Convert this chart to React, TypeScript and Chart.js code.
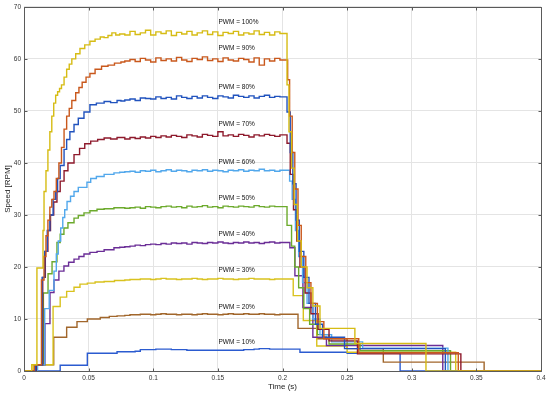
import React, { useEffect, useRef } from "react";
import { Chart, registerables } from "chart.js";

Chart.register(...registerables);

// ---------- data ----------
const pwmNames = ["PWM = 100%", "PWM = 90%", "PWM = 80%", "PWM = 70%", "PWM = 60%", "PWM = 50%", "PWM = 40%", "PWM = 30%", "PWM = 20%", "PWM = 10%"];
const seriesColors = ["#D6BC14", "#C9581C", "#2153BE", "#8E1A2C", "#52A8EC", "#6CAA2C", "#6B2E97", "#D9C21E", "#A1662B", "#2B5BD0"];
const labelT = 0.1505;
const labelV = [67.1, 62.0, 54.6, 47.4, 40.2, 33.2, 26.3, 19.3, 12.3, 5.6];

const xTicksMin = 0, xTicksMax = 0.4, xStep = 0.05;
const yTicksMin = 0, yTicksMax = 70, yStep = 10;

// shared sample times for the steady-state part
const plateauTimes = [0.078, 0.082, 0.086, 0.090, 0.094, 0.098, 0.102, 0.106, 0.110, 0.114, 0.118, 0.122, 0.126, 0.130, 0.134, 0.138, 0.142, 0.146, 0.150, 0.154, 0.158, 0.162, 0.166, 0.170, 0.174, 0.178, 0.182, 0.186, 0.190, 0.194, 0.198];

// PWM = 100%
const rise100 = [[0, 0], [0.006, 1.2], [0.010, 19.8], [0.0147, 27], [0.0155, 34.5], [0.017, 38.5], [0.0185, 42.5], [0.020, 46], [0.0215, 49], [0.023, 51.5], [0.0245, 53], [0.026, 53.7], [0.0275, 54.3], [0.029, 55], [0.031, 56.5], [0.033, 58], [0.035, 59], [0.037, 60], [0.040, 61], [0.0433, 62], [0.047, 62.7], [0.051, 63.4], [0.055, 63.8], [0.059, 64.2], [0.062, 64.1], [0.065, 64.5], [0.068, 65.0], [0.071, 64.6], [0.074, 64.8]];
const plateau100 = [64.6, 65.3, 64.7, 65.0, 65.5, 64.6, 65.2, 64.9, 65.4, 64.5, 65.1, 64.8, 65.3, 64.6, 65.0, 65.4, 64.7, 65.2, 64.5, 65.1, 64.9, 65.3, 64.6, 65.0, 64.8, 65.4, 64.7, 65.1, 64.6, 65.2, 64.9];
const fall100 = [[0.2035, 55], [0.205, 46], [0.207, 39], [0.209, 32], [0.2115, 25], [0.2145, 20], [0.219, 16], [0.2235, 12.5], [0.229, 8.2], [0.256, 5.3], [0.311, 0], [0.4, 0]];

// PWM = 90%
const rise90 = [[0, 0], [0.008, 1.2], [0.0135, 17.5], [0.0155, 22], [0.017, 26], [0.0185, 29], [0.020, 31.5], [0.0215, 33], [0.0232, 34.5], [0.025, 37], [0.027, 40], [0.029, 43], [0.031, 46.5], [0.033, 49], [0.035, 50.5], [0.037, 52], [0.040, 53.5], [0.0425, 54.5], [0.045, 55.5], [0.048, 56.5], [0.051, 57.2], [0.055, 58], [0.060, 58.6], [0.065, 58.8], [0.070, 59.2], [0.075, 59.4]];
const plateau90 = [59.6, 59.9, 59.5, 60.1, 59.8, 59.4, 60.2, 59.7, 60.0, 59.6, 60.3, 59.8, 59.5, 60.1, 59.9, 60.4, 59.7, 60.0, 59.5, 60.2, 59.8, 59.6, 60.1, 59.9, 59.4, 60.2, 58.8, 60.0, 59.6, 60.1, 59.8];
const fall90 = [[0.204, 56], [0.2055, 49], [0.2075, 42], [0.2095, 35], [0.212, 28], [0.2145, 22], [0.218, 17], [0.222, 13], [0.227, 9.5], [0.232, 6.2], [0.259, 3.5], [0.336, 0], [0.4, 0]];

// PWM = 80%
const rise80 = [[0, 0], [0.009, 1.2], [0.014, 18], [0.016, 23], [0.018, 27], [0.020, 30], [0.0225, 33], [0.0245, 34.5], [0.026, 37], [0.028, 39.5], [0.031, 42.6], [0.033, 44.5], [0.0355, 46], [0.0387, 47.4], [0.042, 48.6], [0.0464, 49.8], [0.051, 51.2], [0.056, 51.5], [0.062, 51.8], [0.067, 51.6], [0.072, 52.0], [0.075, 51.9]];
const plateau80 = [52.1, 52.3, 52.0, 52.5, 52.4, 52.3, 52.7, 52.4, 52.6, 52.3, 52.9, 52.6, 52.4, 52.8, 52.5, 52.9, 52.6, 52.4, 52.9, 52.7, 52.5, 53.0, 52.8, 52.6, 52.9, 52.5, 52.8, 53.0, 52.6, 52.8, 52.7];
const fall80 = [[0.2035, 49.8], [0.206, 42], [0.208, 36], [0.2105, 29], [0.213, 23], [0.2165, 18], [0.2205, 13], [0.2255, 9], [0.231, 6.5], [0.248, 4.3], [0.326, 0], [0.4, 0]];

// PWM = 70%
const rise70 = [[0, 0], [0.0095, 1.2], [0.0145, 18], [0.0165, 23], [0.0185, 27], [0.0205, 30], [0.023, 32.5], [0.0255, 34.5], [0.028, 36.5], [0.031, 38.5], [0.034, 40], [0.0387, 41.6], [0.043, 42.8], [0.047, 43.7], [0.0516, 44.2], [0.057, 44.5], [0.062, 44.8], [0.067, 44.6], [0.072, 44.9]];
const plateau70 = [44.6, 44.9, 44.7, 45.0, 44.8, 45.1, 44.9, 45.2, 45.0, 45.3, 45.1, 44.9, 45.4, 45.2, 45.0, 45.5, 45.3, 45.1, 46.0, 45.2, 45.4, 45.1, 45.5, 45.3, 45.0, 45.4, 45.2, 45.5, 45.3, 45.1, 45.4];
const fall70 = [[0.2035, 43.8], [0.206, 37.8], [0.2085, 31], [0.211, 25], [0.2135, 20], [0.2175, 15], [0.222, 11], [0.2275, 8], [0.236, 5.8], [0.258, 3.3], [0.338, 0], [0.4, 0]];

// PWM = 60%
const rise60 = [[0, 0], [0.0105, 1.2], [0.016, 12], [0.0195, 15.5], [0.0232, 19.2], [0.025, 22.5], [0.0265, 25], [0.0284, 27.5], [0.030, 29.5], [0.0315, 31], [0.0333, 32.6], [0.036, 33.6], [0.0387, 34.5], [0.042, 35.3], [0.0487, 36.3], [0.0516, 37.0], [0.056, 37.4], [0.062, 37.8], [0.0696, 38.1], [0.074, 38.2]];
const plateau60 = [38.3, 38.4, 38.2, 38.5, 38.4, 38.6, 38.3, 38.5, 38.7, 38.4, 38.6, 38.5, 38.3, 38.6, 38.5, 38.7, 38.4, 38.6, 38.5, 38.3, 38.6, 38.5, 38.7, 38.4, 38.6, 38.5, 38.8, 38.5, 38.6, 38.4, 38.6];
const fall60 = [[0.2055, 36.5], [0.2075, 33], [0.21, 27], [0.2125, 22], [0.2155, 17], [0.219, 13], [0.2235, 10], [0.229, 7], [0.238, 5.6], [0.262, 4.4], [0.328, 0], [0.4, 0]];

// PWM = 50%
const rise50 = [[0, 0], [0.0095, 1.2], [0.015, 15], [0.0186, 18.7], [0.0217, 21], [0.0255, 24.7], [0.028, 26.3], [0.0309, 27.5], [0.034, 28.5], [0.0387, 29.4], [0.042, 29.9], [0.0464, 30.4], [0.051, 30.8], [0.0565, 31.1], [0.062, 31.2], [0.0696, 31.4]];
const plateau50 = [31.3, 31.4, 31.5, 31.3, 31.6, 31.5, 31.4, 31.6, 31.7, 31.5, 31.6, 31.4, 31.7, 31.5, 31.6, 31.8, 31.5, 31.6, 31.4, 31.7, 31.6, 31.5, 31.7, 31.6, 31.5, 31.8, 31.6, 31.5, 31.7, 31.6, 31.6];
const fall50 = [[0.2035, 28], [0.207, 24], [0.2095, 20], [0.2125, 16], [0.2165, 12], [0.221, 9], [0.227, 7], [0.236, 5.2], [0.26, 3.9], [0.330, 0], [0.4, 0]];

// PWM = 40%
const rise40 = [[0, 0], [0.0085, 1.2], [0.0162, 9.1], [0.0201, 15.1], [0.0232, 17.5], [0.027, 19.2], [0.0309, 20.2], [0.0345, 20.9], [0.0387, 21.5], [0.0425, 22.0], [0.0464, 22.5], [0.051, 22.8], [0.0565, 23.0], [0.062, 23.3], [0.0696, 23.7], [0.074, 23.8]];
const plateau40 = [23.9, 24.0, 24.2, 24.1, 24.3, 24.4, 24.3, 24.5, 24.4, 24.6, 24.5, 24.6, 24.4, 24.7, 24.6, 24.5, 24.7, 24.6, 24.8, 24.6, 24.5, 24.7, 24.6, 24.8, 24.6, 24.7, 24.5, 24.7, 24.8, 24.6, 24.7];
const fall40 = [[0.2057, 23.7], [0.2096, 18.3], [0.2158, 12.2], [0.2235, 6.5], [0.234, 4.9], [0.324, 0], [0.4, 0]];

// PWM = 30%
const rise30 = [[0, 0], [0.007, 1.2], [0.0225, 12.4], [0.028, 14.2], [0.033, 15.3], [0.0387, 16.1], [0.0433, 16.7], [0.049, 16.9], [0.055, 17.1], [0.062, 17.2], [0.070, 17.4]];
const plateau30 = [17.5, 17.6, 17.6, 17.7, 17.7, 17.6, 17.7, 17.8, 17.7, 17.7, 17.6, 17.7, 17.7, 17.8, 17.7, 17.6, 17.7, 17.7, 17.8, 17.7, 17.7, 17.6, 17.7, 17.7, 17.8, 17.7, 17.7, 17.7, 17.6, 17.7, 17.7];
const fall30 = [[0.2083, 14.5], [0.2161, 9.7], [0.2265, 4.8], [0.25, 3.6], [0.334, 0], [0.4, 0]];

// PWM = 20%
const rise20 = [[0, 0], [0.009, 1.2], [0.023, 6.5], [0.033, 8.4], [0.041, 9.5], [0.049, 10.0], [0.059, 10.3], [0.066, 10.5], [0.072, 10.6]];
const plateau20 = [10.7, 10.8, 10.8, 10.9, 10.9, 10.8, 10.9, 11.0, 10.9, 10.9, 10.8, 10.9, 10.9, 10.8, 10.9, 11.0, 10.9, 10.9, 10.8, 10.9, 11.0, 10.9, 10.9, 11.0, 10.9, 10.9, 11.0, 10.9, 10.9, 10.8, 10.9];
const fall20 = [[0.212, 8.2], [0.2265, 6.2], [0.25, 4.3], [0.278, 1.7], [0.356, 0], [0.4, 0]];

// PWM = 10%
const rise10 = [[0, 0], [0.028, 1.1], [0.049, 3.4], [0.072, 3.7]];
const plateau10 = [3.7, 3.7, 3.8, 4.1, 4.1, 4.1, 4.2, 4.2, 4.2, 4.1, 4.1, 4.1, 4.0, 4.0, 4.0, 4.0, 4.0, 4.0, 4.0, 4.0, 4.0, 4.0, 4.0, 4.1, 4.1, 4.2, 4.3, 4.3, 4.2, 4.2, 4.2];
const fall10 = [[0.2135, 3.6], [0.25, 3.4], [0.291, 0], [0.4, 0]];

const seriesParts = [
  [rise100, plateau100, fall100],
  [rise90, plateau90, fall90],
  [rise80, plateau80, fall80],
  [rise70, plateau70, fall70],
  [rise60, plateau60, fall60],
  [rise50, plateau50, fall50],
  [rise40, plateau40, fall40],
  [rise30, plateau30, fall30],
  [rise20, plateau20, fall20],
  [rise10, plateau10, fall10],
];

function buildSeries(rise: number[][], plateau: number[], fall: number[][]) {
  return [
    ...rise.map(([x, y]) => ({ x, y })),
    ...plateau.map((y, i) => ({ x: plateauTimes[i], y })),
    ...fall.map(([x, y]) => ({ x, y })),
  ];
}

const FONT = "'Liberation Sans', Arial, Helvetica, sans-serif";

const framePlugin = {
  id: "frameAndLabels",
  afterDatasetsDraw(chart: any) {
    const { ctx, chartArea, scales } = chart;
    const xs = scales.x, ys = scales.y;
    ctx.save();
    // PWM labels
    ctx.fillStyle = "#111";
    ctx.font = `6.5px ${FONT}`;
    ctx.textAlign = "left";
    ctx.textBaseline = "middle";
    pwmNames.forEach((t, i) => {
      ctx.fillText(t, xs.getPixelForValue(labelT), ys.getPixelForValue(labelV[i]));
    });
    // frame
    const l = Math.round(chartArea.left) + 0.5;
    const r = Math.round(chartArea.right) + 0.5;
    const tp = Math.round(chartArea.top) + 0.5;
    const b = Math.round(chartArea.bottom) + 0.5;
    ctx.strokeStyle = "#5a5a5a";
    ctx.lineWidth = 1;
    ctx.beginPath();
    ctx.rect(l, tp, r - l, b - tp);
    // inward ticks
    const tl = 3;
    for (let v = xTicksMin; v <= xTicksMax + 1e-9; v += xStep) {
      const px = Math.round(xs.getPixelForValue(v)) + 0.5;
      ctx.moveTo(px, b); ctx.lineTo(px, b - tl);
      ctx.moveTo(px, tp); ctx.lineTo(px, tp + tl);
    }
    for (let v = yTicksMin; v <= yTicksMax + 1e-9; v += yStep) {
      const py = Math.round(ys.getPixelForValue(v)) + 0.5;
      ctx.moveTo(l, py); ctx.lineTo(l + tl, py);
      ctx.moveTo(r, py); ctx.lineTo(r - tl, py);
    }
    ctx.stroke();
    ctx.restore();
  },
};

export default function App() {
  const ref = useRef<HTMLCanvasElement | null>(null);
  useEffect(() => {
    if (!ref.current) return;
    const datasets = seriesParts.map((p, i) => ({
      label: pwmNames[i],
      data: buildSeries(p[0] as number[][], p[1] as number[], p[2] as number[][]),
      borderColor: seriesColors[i],
      backgroundColor: seriesColors[i],
      borderWidth: 1.4,
      pointRadius: 0,
      stepped: "before" as const,
      fill: false,
    }));
    const chart = new Chart(ref.current, {
      type: "line",
      data: { datasets },
      options: {
        animation: false,
        responsive: false,
        devicePixelRatio: 1,
        parsing: false as any,
        normalized: true,
        layout: { padding: { top: 5, right: 9, left: 0, bottom: 0 } },
        plugins: { legend: { display: false }, tooltip: { enabled: false } },
        scales: {
          x: {
            type: "linear",
            min: xTicksMin,
            max: xTicksMax,
            afterFit: (s: any) => { s.height = 27; },
            grid: { color: "#e4e4e4", drawTicks: false, lineWidth: 1 },
            border: { display: false },
            ticks: {
              stepSize: xStep,
              autoSkip: false,
              maxRotation: 0,
              padding: 3,
              color: "#333",
              font: { family: FONT, size: 6.5 },
              callback: (v: any) => String(+Number(v).toFixed(2)),
            },
            title: { display: true, text: "Time (s)", color: "#222", font: { family: FONT, size: 8 }, padding: { top: 0, bottom: 6 } },
          },
          y: {
            type: "linear",
            min: yTicksMin,
            max: yTicksMax,
            afterFit: (s: any) => { s.width = 24; },
            grid: { color: "#e4e4e4", drawTicks: false, lineWidth: 1 },
            border: { display: false },
            ticks: {
              stepSize: yStep,
              padding: 3,
              color: "#333",
              font: { family: FONT, size: 6.5 },
            },
            title: { display: true, text: "Speed [RPM]", color: "#222", font: { family: FONT, size: 8 }, padding: { top: 3, bottom: 0 } },
          },
        },
      },
      plugins: [framePlugin],
    });
    return () => chart.destroy();
  }, []);
  return (
    <div style={{ position: "absolute", left: 0, top: 0, width: 550, height: 398, background: "#fff" }}>
      <canvas ref={ref} width={550} height={398} style={{ display: "block", width: 550, height: 398 }} />
    </div>
  );
}
